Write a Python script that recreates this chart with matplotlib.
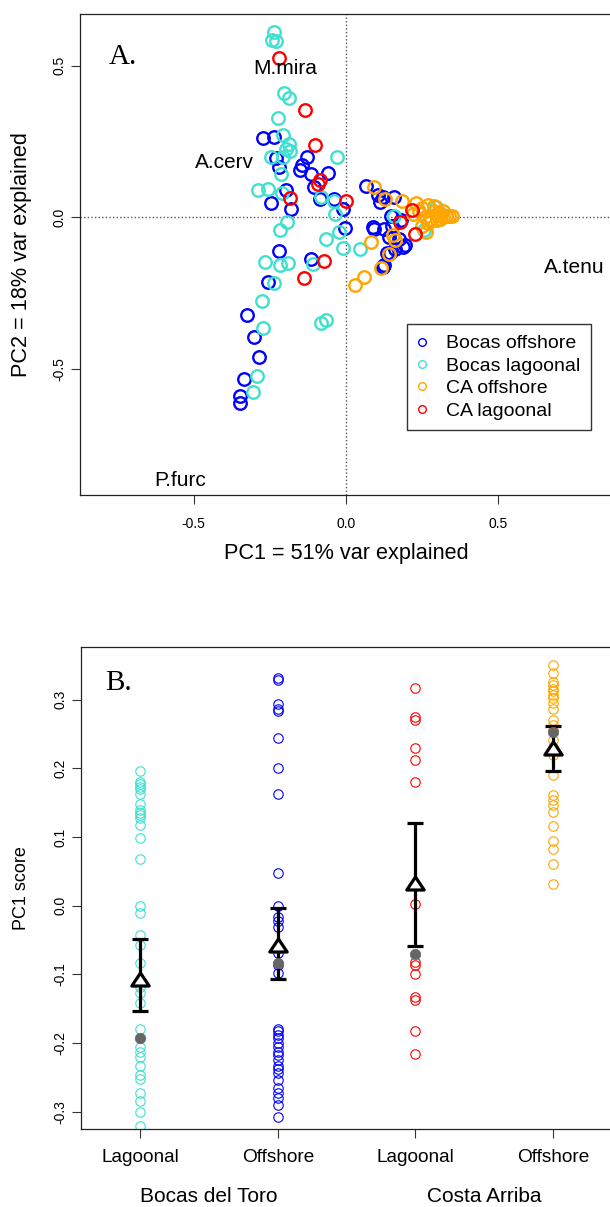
import matplotlib
matplotlib.use('Agg')
import matplotlib.pyplot as plt
from matplotlib.lines import Line2D

plt.rcParams['font.family'] = ['Liberation Sans', 'DejaVu Sans']
plt.rcParams['axes.unicode_minus'] = False

# ---------------- Panel A data (PCA scores) ----------------
bocas_off_x = [-0.273, -0.235, -0.228, -0.218, -0.145, -0.129, -0.152, -0.114, -0.059, -0.103,
               -0.085, -0.198, -0.180, -0.245, -0.040, -0.008, -0.003, 0.065, 0.106, 0.113,
               0.157, 0.093, 0.126, 0.152, 0.173, 0.193, 0.161, 0.135, 0.126, 0.142,
               0.180, 0.148, -0.219, -0.114, -0.256, -0.323, -0.301, -0.286, -0.334, -0.347,
               -0.349, 0.122, 0.090, 0.145, 0.122, 0.187]
bocas_off_y = [0.261, 0.263, 0.195, 0.166, 0.173, 0.198, 0.154, 0.141, 0.145, 0.099,
               0.059, 0.088, 0.026, 0.047, 0.059, 0.028, -0.035, 0.101, 0.072, 0.049,
               0.065, -0.038, -0.039, -0.029, -0.073, -0.092, -0.105, -0.117, -0.157, -0.067,
               -0.010, 0.003, -0.113, -0.139, -0.215, -0.322, -0.397, -0.461, -0.535, -0.589,
               -0.615, 0.067, -0.032, -0.119, -0.164, -0.098]

bocas_lag_x = [-0.235, -0.243, -0.230, -0.202, -0.186, -0.223, -0.207, -0.188, -0.196, -0.184,
               -0.205, -0.246, -0.028, -0.213, -0.288, -0.254, -0.211, -0.080, -0.040, -0.034,
               -0.194, -0.216, -0.024, -0.065, -0.008, 0.046, -0.265, -0.216, -0.190, -0.107,
               -0.237, -0.276, -0.272, -0.080, -0.065, -0.291, -0.305, 0.295, 0.256, 0.157]
bocas_lag_y = [0.611, 0.583, 0.580, 0.408, 0.393, 0.326, 0.271, 0.242, 0.223, 0.217,
               0.198, 0.198, 0.198, 0.141, 0.088, 0.094, 0.078, 0.065, 0.053, 0.009,
               -0.016, -0.042, -0.048, -0.073, -0.102, -0.105, -0.149, -0.157, -0.151, -0.155,
               -0.218, -0.278, -0.366, -0.350, -0.341, -0.523, -0.577, 0.034, -0.042, 0.003]

ca_off_x = [0.091, 0.129, 0.186, 0.084, 0.154, 0.161, 0.142, 0.116, 0.059, 0.029,
            0.263, 0.230, 0.250, 0.270, 0.290, 0.300, 0.310, 0.320, 0.330, 0.340,
            0.350, 0.280, 0.260, 0.240, 0.300, 0.270, 0.320, 0.220, 0.250, 0.290, 0.310]
ca_off_y = [0.099, 0.059, 0.053, -0.082, -0.060, -0.077, -0.123, -0.168, -0.199, -0.224,
            -0.048, 0.045, 0.030, 0.040, 0.020, 0.010, 0.015, 0.000, 0.005, 0.005,
            0.005, -0.005, 0.000, 0.020, -0.010, -0.020, 0.020, 0.010, -0.030, 0.035, -0.005]

ca_lag_x = [-0.218, -0.133, -0.101, -0.085, -0.091, -0.184, 0.001, -0.073, -0.139, 0.177, 0.228, 0.216]
ca_lag_y = [0.525, 0.353, 0.238, 0.122, 0.110, 0.062, 0.053, -0.146, -0.202, -0.016, -0.057, 0.023]

species_names = ['M.mira', 'A.cerv', 'A.tenu', 'P.furc']
species_x = [-0.200, -0.397, 0.749, -0.545]
species_y = [0.491, 0.179, -0.168, -0.870]

legend_labels = ['Bocas offshore', 'Bocas lagoonal', 'CA offshore', 'CA lagoonal']

# ---------------- Panel B data (PC1 scores by group) ----------------
group_ticklabels = ['Lagoonal', 'Offshore', 'Lagoonal', 'Offshore']
region_labels = ['Bocas del Toro', 'Costa Arriba']

b_lag_pc1 = [0.196, 0.180, 0.177, 0.173, 0.170, 0.163, 0.148, 0.139, 0.135, 0.132,
             0.127, 0.117, 0.099, 0.068, 0.000, -0.010, -0.043, -0.057, -0.083, -0.118,
             -0.127, -0.142, -0.179, -0.193, -0.205, -0.213, -0.220, -0.234, -0.246, -0.253,
             -0.273, -0.285, -0.300, -0.320]
b_off_pc1 = [0.332, 0.328, 0.294, 0.287, 0.283, 0.244, 0.201, 0.162, 0.047, -0.001,
             -0.016, -0.023, -0.031, -0.062, -0.069, -0.086, -0.098, -0.179, -0.183, -0.188,
             -0.193, -0.200, -0.205, -0.213, -0.217, -0.225, -0.234, -0.237, -0.244, -0.254,
             -0.266, -0.273, -0.280, -0.290, -0.307]
c_lag_pc1 = [0.317, 0.275, 0.271, 0.229, 0.212, 0.180, 0.003, -0.082, -0.086, -0.100,
             -0.133, -0.137, -0.182, -0.216]
c_off_pc1 = [0.350, 0.338, 0.326, 0.321, 0.316, 0.312, 0.307, 0.302, 0.295, 0.287,
             0.270, 0.263, 0.256, 0.241, 0.231, 0.219, 0.190, 0.161, 0.154, 0.147,
             0.137, 0.116, 0.094, 0.083, 0.060, 0.031]

group_means = [-0.106, -0.057, 0.033, 0.230]
group_upper = [-0.049, -0.004, 0.121, 0.262]
group_lower = [-0.153, -0.107, -0.058, 0.196]
group_medians = [-0.192, -0.084, -0.071, 0.253]

COL_BOFF = '#0000FF'
COL_BLAG = '#40E0D0'
COL_COFF = '#FFA500'
COL_CLAG = '#FF0000'

W, H, DPI = 610, 1207, 100
fig = plt.figure(figsize=(W / DPI, H / DPI), dpi=DPI)


def px_axes(l, t, r, b):
    return fig.add_axes([l / W, 1 - b / H, (r - l) / W, (b - t) / H])


def style_axes(ax):
    for s in ax.spines.values():
        s.set_color('#222222')
        s.set_linewidth(0.9)
    ax.tick_params(direction='out', length=6.5, width=0.8, color='#333333',
                   labelsize=10)
    ax.tick_params(axis='x', pad=9.5)
    ax.tick_params(axis='y', pad=3.3)


# ---------------- Panel A ----------------
axA = px_axes(80, 14, 612, 495)
axA.set_xlim(-0.873, 0.874)
axA.set_ylim(-0.917, 0.670)
style_axes(axA)
axA.axhline(0, color='#555555', lw=1.0, ls=(0, (1, 1.6)), zorder=1)
axA.axvline(0, color='#555555', lw=1.0, ls=(0, (1, 1.6)), zorder=1)

kw = dict(ls='none', marker='o', mfc='none', ms=9, mew=1.7, zorder=3)
axA.plot(bocas_off_x, bocas_off_y, mec=COL_BOFF, **kw)
axA.plot(bocas_lag_x, bocas_lag_y, mec=COL_BLAG, **kw)
axA.plot(ca_off_x, ca_off_y, mec=COL_COFF, **kw)
axA.plot(ca_lag_x, ca_lag_y, mec=COL_CLAG, **kw)

for name, sx, sy in zip(species_names, species_x, species_y):
    axA.text(sx, sy, name, ha='center', va='center', fontsize=15, zorder=4)

axA.set_xticks([-0.5, 0.0, 0.5])
axA.set_xticklabels(['-0.5', '0.0', '0.5'])
axA.set_yticks([-0.5, 0.0, 0.5])
axA.set_yticklabels(['-0.5', '0.0', '0.5'], rotation=90, va='center')

axA.text(0.080, 0.910, 'A.', transform=axA.transAxes, ha='center', va='center',
         fontsize=21, family=['Liberation Serif', 'DejaVu Serif'])

handles = [Line2D([], [], ls='none', marker='o', mfc='none', mec=c, ms=5.5, mew=1.0)
           for c in [COL_BOFF, COL_BLAG, COL_COFF, COL_CLAG]]
leg = axA.legend(handles, legend_labels, loc='upper left',
                 bbox_to_anchor=(407.3 / W, 1 - 324 / H), bbox_transform=fig.transFigure,
                 fontsize=14, frameon=True, fancybox=False, borderpad=0.55,
                 handlelength=0.44, handletextpad=1.0, labelspacing=0.25,
                 borderaxespad=0)
leg.get_frame().set_edgecolor('black')
leg.get_frame().set_linewidth(1.0)

fig.text(346 / W, 1 - 553.6 / H, 'PC1 = 51% var explained', ha='center', va='center',
         fontsize=15.6)
fig.text(21.4 / W, 1 - 254.5 / H, 'PC2 = 18% var explained', ha='center', va='center',
         rotation=90, fontsize=15.6)

# ---------------- Panel B ----------------
axB = px_axes(80.7, 646.7, 612, 1129.3)
axB.set_xlim(0.5665, 4.43)
axB.set_ylim(-0.3255, 0.377)
style_axes(axB)

kwb = dict(ls='none', marker='o', mfc='none', ms=6.8, mew=0.8, zorder=2)
groups = [b_lag_pc1, b_off_pc1, c_lag_pc1, c_off_pc1]
gcols = [COL_BLAG, COL_BOFF, COL_CLAG, COL_COFF]
for i, (vals, c) in enumerate(zip(groups, gcols)):
    axB.plot([i + 1] * len(vals), vals, mec=c, **kwb)

xpos = [1, 2, 3, 4]
yerr = [[m - lo for m, lo in zip(group_means, group_lower)],
        [up - m for m, up in zip(group_means, group_upper)]]
axB.errorbar(xpos, group_means, yerr=yerr, fmt='none', ecolor='black', elinewidth=2.3,
             capsize=5.8, capthick=2.3, zorder=4)
tri = [(0, 0.75), (-1, -0.75), (1, -0.75), (0, 0.75)]
axB.plot(xpos, group_means, ls='none', marker=tri, ms=12.5, mfc='white', mec='black',
         mew=2.3, zorder=5)
axB.plot(xpos, group_medians, ls='none', marker='o', ms=7.5, mfc='#666666',
         mec='#666666', mew=0.5, zorder=6)

axB.set_xticks(xpos)
axB.set_xticklabels(group_ticklabels, fontsize=13.7)
axB.tick_params(axis='x', pad=7.8)
axB.set_yticks([-0.3, -0.2, -0.1, 0.0, 0.1, 0.2, 0.3])
axB.set_yticklabels(['-0.3', '-0.2', '-0.1', '0.0', '0.1', '0.2', '0.3'], rotation=90,
                    va='center')

axB.text(0.0708, 0.924, 'B.', transform=axB.transAxes, ha='center', va='center',
         fontsize=21, family=['Liberation Serif', 'DejaVu Serif'])

for lab, cx in zip(region_labels, [1.5, 3.5]):
    axB.annotate(lab, xy=(cx, 0), xycoords=('data', 'axes fraction'),
                 xytext=(0, -(1196 - 1129.3) * 72 / DPI), textcoords='offset points',
                 ha='center', va='center', fontsize=15)

fig.text(21.4 / W, 1 - 888 / H, 'PC1 score', ha='center', va='center', rotation=90,
         fontsize=13)

fig.savefig('out.png', dpi=DPI)
